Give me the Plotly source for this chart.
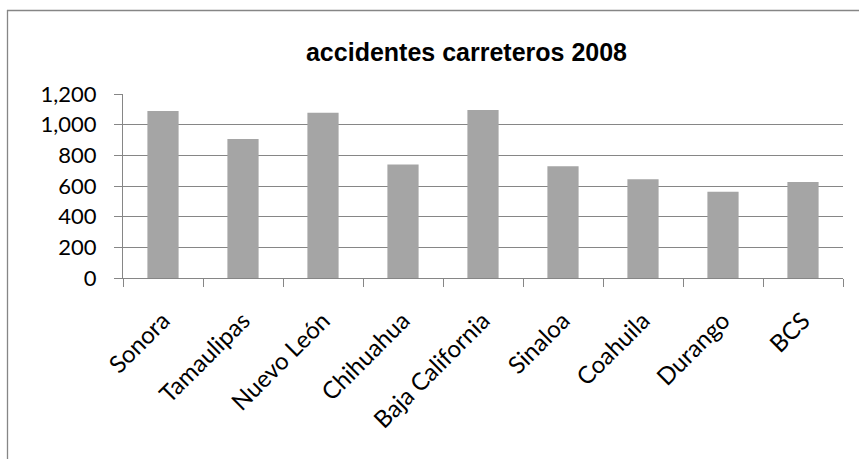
import plotly.graph_objects as go

categories = ["Sonora", "Tamaulipas", "Nuevo León", "Chihuahua", "Baja California",
              "Sinaloa", "Coahuila", "Durango", "BCS"]
values = [1089, 907, 1078, 741, 1096, 728, 644, 563, 626]
title_text = "accidentes carreteros 2008"

GRAY = "#868686"
W, H = 859, 459
L, R, T, B = 123, 16, 94, 181
pw, ph = W - L - R, H - T - B

def px_x(x):
    return (x - L) / pw

def px_y(y):
    return (H - B - y) / ph

fig = go.Figure(go.Bar(x=categories, y=values, marker=dict(color="#A5A5A5", line=dict(width=0))))

fig.update_layout(
    width=W, height=H,
    margin=dict(l=L, r=R, t=T, b=B),
    paper_bgcolor="white", plot_bgcolor="white",
    bargap=0.61,
    showlegend=False,
    title=dict(text="<b>" + title_text + "</b>", x=px_x(466.5), xref="paper", xanchor="center",
               y=1 - 52 / H, yanchor="middle",
               font=dict(family="Liberation Sans, Arial", size=25, color="black")),
    font=dict(family="Lato, Calibri, sans-serif", size=22, color="black"),
    xaxis=dict(type="category", showline=True, linecolor=GRAY, linewidth=1.3,
               ticks="outside", ticklen=8, tickcolor=GRAY, tickwidth=1.3,
               tickson="boundaries", tickangle=-45, showgrid=False,
               ticklabelstandoff=18,
               tickfont=dict(family="Lato, Calibri, sans-serif", size=24)),
    yaxis=dict(range=[0, 1200], dtick=200, tickformat=",", showline=True, linecolor=GRAY,
               linewidth=1.3, ticks="outside", ticklen=8, tickcolor=GRAY, tickwidth=1.3,
               showgrid=True, gridcolor=GRAY, gridwidth=1.3, zeroline=False,
               ticklabelstandoff=13,
               tickfont=dict(family="Lato, Calibri, sans-serif", size=22)),
    shapes=[
        dict(type="line", xref="paper", yref="paper", x0=px_x(7), x1=px_x(859), y0=px_y(10.5), y1=px_y(10.5),
             line=dict(color=GRAY, width=1.3)),
        dict(type="line", xref="paper", yref="paper", x0=px_x(7.5), x1=px_x(7.5), y0=px_y(10), y1=px_y(459),
             line=dict(color=GRAY, width=1.3)),
    ],
)

fig.write_html("out.html", config={"displayModeBar": False},
               post_script="document.body.style.margin='0';document.body.style.overflow='hidden';")
